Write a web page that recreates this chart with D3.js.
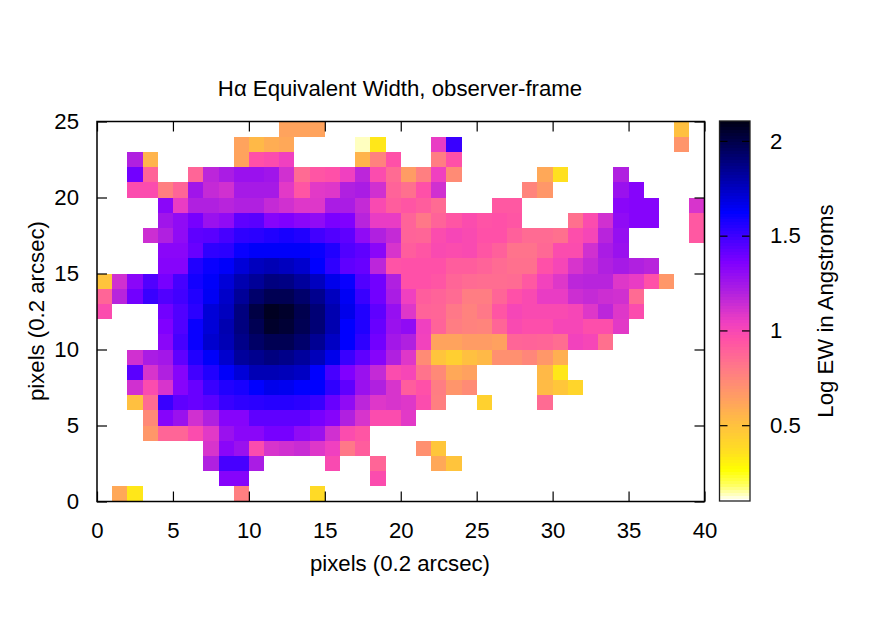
<!DOCTYPE html>
<html><head><meta charset="utf-8">
<script src="https://cdn.jsdelivr.net/npm/d3@7/dist/d3.min.js"></script>
<style>html,body{margin:0;padding:0;background:#fff}svg{display:block}
text{font-family:"Liberation Sans",Arial,sans-serif;fill:#000}</style></head>
<body><svg id="c" width="890" height="623"></svg>
<script>
const _ = null;
const titleText = "Hα Equivalent Width, observer-frame";
const xLabel = "pixels (0.2 arcsec)";
const yLabel = "pixels (0.2 arcsec)";
const cbLabel = "Log EW in Angstroms";
const xTicks = [0,5,10,15,20,25,30,35,40];
const yTicks = [0,5,10,15,20,25];
const cbTicks = [0.5,1,1.5,2];
const cbDomain = [0.1,2.105];
const paletteStops = [0.10,0.13,0.18,0.26,0.35,0.5,0.6,0.7,0.8,0.95,1.03,1.12,1.2,1.35,1.62,2.105];
const paletteColors = ["#ffffff","#ffffc0","#ffff60","#ffff00","#ffe020","#ffc040","#ffa858","#ff9070","#ff7888","#ff50a8","#f040c0","#d030d0","#b020e0","#8000ff","#0000ff","#000010"];

const row24=[_,_,_,_,_, _,_,_,_,_, _,_,.62,.62,.62, _,_,_,_,_, _,_,_,_,_, _,_,_,_,_, _,_,_,_,_, _,_,_,.5];
const row23=[_,_,_,_,_, _,_,_,_,.62, .53,.58,.6,_,_, _,_,.13,.33,_, _,_,1.05,1.5,_, _,_,_,_,_, _,_,_,_,_, _,_,_,.68];
const row22=[_,_,1.2,.55,_, _,_,_,_,.62, .95,.97,1.03,_,_, _,_,.55,.76,.95, _,_,.78,.95];
const row21=[_,_,1.38,.88,_, _,.87,1.17,1.22,1.27, 1.27,1.25,1.12,.85,.93, .95,1.03,1.17,.97,.85, .65,.77,1.03,.72,_, _,_,_,_,.6, .35,_,_,_,1.2];
const row20=[_,_,.97,.97,.77, .87,1.25,1.15,1.12,1.23, 1.23,1.23,1.07,.93,1.07, 1.08,1.2,1.22,1.12,.88, .83,.95,1.12,_,_, _,_,_,.75,.67, _,_,_,_,1.27, 1.33];
const row19=[_,_,_,_,1.32, 1.05,1.2,1.2,1.18,1.2, 1.2,1.15,1.12,1.08,1.08, 1.22,1.22,1.15,.98,.9, .93,.9,.85,_,_, _,.92,.92,_,_, _,_,_,_,1.32, 1.33,1.33,_,_,1.1];
const row18=[_,_,_,_,1.25, 1.3,1.37,1.27,1.3,1.42, 1.43,1.33,1.35,1.32,1.3, 1.36,1.35,1.18,1.05,1.05, .88,.8,.88,.93,.97, .94,.95,.93,_,_, _,.83,.97,1.12,1.3, 1.33,1.33,_,_,.92];
const row17=[_,_,_,1.13,1.2, 1.3,1.42,1.43,1.47,1.52, 1.53,1.55,1.57,1.55,1.48, 1.45,1.42,1.3,1.2,1.15, .88,.87,.97,1,.98, .95,.95,.89,.85,.85, .83,.96,1,1.18,1.28, _,_,_,_,.92];
const row16=[_,_,_,_,1.32, 1.32,1.4,1.52,1.53,1.6, 1.63,1.63,1.63,1.63,1.6, 1.55,1.45,1.42,1.32,1.1, .9,.93,.98,.97,.98, .93,.89,.82,.82,.86, .97,.97,1.12,1.22,1.27];
const row15=[_,_,_,_,1.33, 1.33,1.55,1.6,1.63,1.7, 1.75,1.77,1.75,1.72,1.62, 1.52,1.42,1.4,1.17,.94, .95,.95,.95,.9,.9, .88,.85,.83,.83,.95, 1,1.1,1.15,1.2,1.23, 1.2,1.18];
const row14=[.48,1.12,1.32,1.45,1.37, 1.47,1.58,1.63,1.7,1.78, 1.83,1.88,1.87,1.82,1.75, 1.66,1.6,1.45,1.38,1.2, .95,.95,.93,.87,.85, .84,.84,.85,.92,1.02, 1.08,1.17,1.18,1.18,1.08, 1.05,.95,.67];
const row13=[.87,1.18,1.38,1.5,1.45, 1.48,1.55,1.64,1.73,1.83, 1.92,1.97,1.97,1.92,1.85, 1.75,1.64,1.5,1.38,1.22, 1.03,.9,.88,.85,.78, .78,.87,.95,.98,1.05, 1.05,1.13,1.15,1.13,1.12, .85];
const row12=[.97,_,_,_,1.38, 1.45,1.53,1.7,1.75,1.88, 2,2.07,2.05,1.98,1.9, 1.78,1.66,1.55,1.42,1.28, 1.08,.88,.87,.8,.76, .8,.93,1,.98,.98, .98,1,1.08,1.17,1.08, .97];
const row11=[_,_,_,_,1.35, 1.45,1.6,1.7,1.78,1.88, 1.97,2.05,2.03,1.97,1.9, 1.78,1.62,1.55,1.4,1.27, 1.3,1.03,.88,.78,.76, .75,.87,.98,.96,.96, 1,1,.96,.96,1.07];
const row10=[_,_,_,_,1.32, 1.47,1.6,1.72,1.77,1.86, 1.93,1.97,1.97,1.92,1.84, 1.74,1.62,1.52,1.38,1.24, 1.2,1.02,.62,.62,.65, .65,.63,.87,.88,.87, .84,1.02,1,.83];
const row9=[_,_,1.12,1.22,1.24, 1.42,1.55,1.63,1.72,1.82, 1.85,1.88,1.86,1.82,1.76, 1.66,1.5,1.42,1.33,1.2, 1.08,.72,.48,.43,.5, .53,.7,.7,.74,.67, .57];
const row8=[_,_,1.43,1.1,1.2, 1.33,1.48,1.55,1.63,1.7, 1.77,1.77,1.76,1.74,1.62, 1.47,1.35,1.27,1.15,.97, 1,.82,.73,.6,.63, _,_,_,_,.53, .33];
const row7=[_,_,1.12,.97,1.1, 1.33,1.4,1.5,1.55,1.57, 1.62,1.66,1.65,1.62,1.62, 1.52,1.42,1.27,1.2,1.1, .9,.95,.78,.68,.72, _,_,_,_,.52, .47,.4];
const row6=[_,_,.5,.85,1.5, 1.42,1.4,1.43,1.5,1.52, 1.53,1.54,1.54,1.53,1.5, 1.4,1.3,1.17,1.08,1.1, 1.08,.97,.77,_,_, .42,_,_,_,.85];
const row5=[_,_,_,.73,1.33, 1.27,1.12,1.2,1.33,1.33, 1.42,1.42,1.42,1.42,1.37, 1.33,1.2,1.1,.97,.97, 1.07];
const row4=[_,_,_,.67,.87, .87,.97,1.07,1.27,1.32, 1.32,1.37,1.37,1.3,1.27, 1.12,.97,.93];
const row3=[_,_,_,_,_, _,_,1.1,1.32,1.27, .97,1.1,1.12,1.14,1.08, 1.03,.8,.9,_,_, _,.7,.47];
const row2=[_,_,_,_,_, _,_,1.2,1.47,1.47, 1.22,_,_,_,_, .98,_,_,.87,_, _,_,.6,.48];
const row1=[_,_,_,_,_, _,_,_,1.33,1.33, _,_,_,_,_, _,_,_,.97];
const row0=[_,.6,.33,_,_, _,_,_,_,.77, _,_,_,_,.38];
const rows=[row0,row1,row2,row3,row4,row5,row6,row7,row8,row9,row10,row11,row12,row13,row14,row15,row16,row17,row18,row19,row20,row21,row22,row23,row24];

const svg=d3.select("#c");
const L=97,R=704.5,T=121.5,B=501.5;
const x=d3.scaleLinear().domain([0,40]).range([L,R]);
const y=d3.scaleLinear().domain([0,25]).range([B,T]);
const color=d3.scaleLinear().domain(paletteStops).range(paletteColors).clamp(true);

const cells=rows.flatMap((r,j)=>r.map((v,i)=>({i,j,v}))).filter(d=>d.v!==null);
svg.append("g").attr("shape-rendering","crispEdges").selectAll("rect").data(cells).join("rect")
  .attr("x",d=>x(d.i)).attr("y",d=>y(d.j+1))
  .attr("width",d=>x(d.i+1)-x(d.i)).attr("height",d=>y(d.j)-y(d.j+1))
  .attr("fill",d=>color(d.v));

const fs=22.2;
function style(g){g.select(".domain").remove();g.selectAll("line").attr("stroke","#000").attr("stroke-width",1.2);
  g.selectAll("text").attr("font-size",fs).attr("font-family",'"Liberation Sans",Arial,sans-serif').attr("fill","#000");}
svg.append("g").attr("transform",`translate(0,${B})`).call(d3.axisBottom(x).tickValues(xTicks).tickSize(-10).tickPadding(21)).call(style);
svg.append("g").attr("transform",`translate(0,${T})`).call(d3.axisTop(x).tickValues(xTicks).tickSize(-10).tickFormat("")).call(style);
svg.append("g").attr("transform",`translate(${L},0)`).call(d3.axisLeft(y).tickValues(yTicks).tickSize(-10).tickPadding(18)).call(style);
svg.append("g").attr("transform",`translate(${R},0)`).call(d3.axisRight(y).tickValues(yTicks).tickSize(-10).tickFormat("")).call(style);
svg.append("rect").attr("x",L).attr("y",T).attr("width",R-L).attr("height",B-T).attr("fill","none").attr("stroke","#000").attr("stroke-width",1.5);

// colour bar
const cL=719.5,cR=750,cT=121,cB=501;
const cy=d3.scaleLinear().domain(cbDomain).range([cB,cT]);
const steps=d3.range(128).map(k=>cbDomain[0]+(cbDomain[1]-cbDomain[0])*k/128);
const stepH=(cbDomain[1]-cbDomain[0])/128;
svg.append("g").attr("shape-rendering","crispEdges").selectAll("rect").data(steps).join("rect")
  .attr("x",cL).attr("width",cR-cL).attr("y",d=>cy(d+stepH)).attr("height",d=>cy(d)-cy(d+stepH)+0.5)
  .attr("fill",d=>color(d));
svg.append("g").attr("transform",`translate(${cR},0)`).call(d3.axisRight(cy).tickValues(cbTicks).tickSize(-8).tickPadding(20).tickFormat(d=>String(d)))
  .call(style);
svg.append("g").attr("transform",`translate(${cL},0)`).call(d3.axisLeft(cy).tickValues(cbTicks).tickSize(-8).tickFormat("")).call(style);
svg.append("rect").attr("x",cL).attr("y",cT).attr("width",cR-cL).attr("height",cB-cT).attr("fill","none").attr("stroke","#222").attr("stroke-width",1.3);

svg.append("text").attr("x",400).attr("y",96).attr("text-anchor","middle").attr("font-size",fs).text(titleText);
svg.append("text").attr("x",400).attr("y",571).attr("text-anchor","middle").attr("font-size",fs).text(xLabel);
svg.append("text").attr("transform","translate(44,311) rotate(-90)").attr("text-anchor","middle").attr("font-size",fs).text(yLabel);
svg.append("text").attr("transform","translate(833,311) rotate(-90)").attr("text-anchor","middle").attr("font-size",fs).text(cbLabel);
</script></body></html>
